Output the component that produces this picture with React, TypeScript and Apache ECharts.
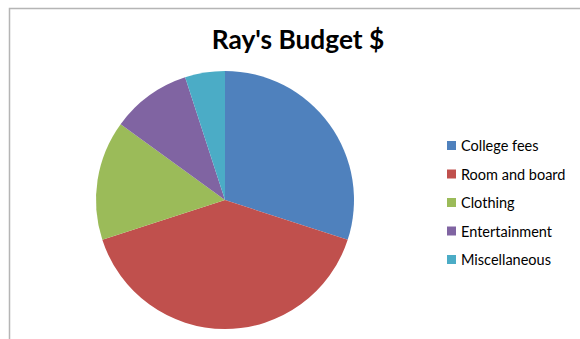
import React, { useEffect, useRef } from "react";
import * as echarts from "echarts";

const categories = ["College fees", "Room and board", "Clothing", "Entertainment", "Miscellaneous"];
const values = [30, 40, 15, 10, 5];
const colors = ["#4F81BD", "#C0504D", "#9BBB59", "#8064A2", "#4BACC6"];

export default function App() {
  const ref = useRef<HTMLDivElement>(null);
  useEffect(() => {
    if (!ref.current) return;
    const chart = echarts.init(ref.current, undefined, { renderer: "svg" });
    chart.setOption({
      animation: false,
      backgroundColor: "#ffffff",
      title: {
        text: "Ray's Budget $",
        left: 293,
        textAlign: "center",
        top: 21,
        textStyle: { fontFamily: "Lato", fontWeight: "bold", fontSize: 26.3, color: "#000" },
      },
      graphic: [
        {
          type: "rect",
          shape: { x: 9.5, y: 8.5, width: 600, height: 400 },
          style: { fill: "none", stroke: "#B5B5B5", lineWidth: 1.5 },
          silent: true,
        },
      ],
      legend: {
        orient: "vertical",
        left: 442,
        top: 133,
        itemWidth: 9,
        itemHeight: 9,
        itemGap: 13.5,
        icon: "rect",
        data: categories,
        textStyle: { fontFamily: "Lato", fontSize: 14.5, color: "#000", lineHeight: 14 },
      },
      series: [
        {
          type: "pie",
          center: [225, 200],
          radius: 129,
          startAngle: 90,
          clockwise: true,
          label: { show: false },
          labelLine: { show: false },
          emphasis: { disabled: true },
          itemStyle: { borderWidth: 0 },
          data: categories.map((name, i) => ({
            name,
            value: values[i],
            itemStyle: { color: colors[i] },
          })),
        },
      ],
    });
    return () => chart.dispose();
  }, []);
  return (
    <div
      ref={ref}
      style={{ position: "absolute", left: 0, top: 0, width: 580, height: 339 }}
    />
  );
}
